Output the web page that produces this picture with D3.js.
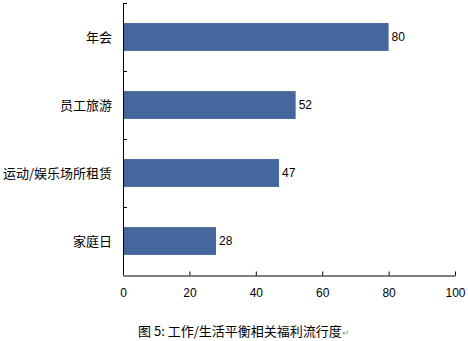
<!DOCTYPE html>
<html>
<head>
<meta charset="utf-8">
<script src="https://cdn.jsdelivr.net/npm/d3@7"></script>
<style>
  body { margin: 0; background: #fff; }
  text { font-family: "Liberation Sans", Arial, sans-serif; font-size: 12px; fill: #000; }
  .cjk { font-family: "Noto Sans CJK SC", sans-serif; font-size: 13px; }
</style>
</head>
<body>
<div id="chart"></div>
<script>
var categories = ["年会", "员工旅游", "运动/娱乐场所租赁", "家庭日"];
var values = [80, 52, 47, 28];
var xTicks = [0, 20, 40, 60, 80, 100];
var caption = "图 5: 工作/生活平衡相关福利流行度";

var width = 468;
var height = 341;
var plotLeft = 123, plotRight = 455, plotTop = 3, plotBottom = 275;
var barColor = "#44679e";

var svg = d3.select("#chart").append("svg")
  .attr("width", width)
  .attr("height", height);

var xScale = d3.scaleLinear()
  .domain([0, 100])
  .range([plotLeft, plotRight]);

var yScale = d3.scaleBand()
  .domain(categories)
  .range([plotTop, plotBottom])
  .paddingInner(0.59)
  .paddingOuter(0.295);

/* bars */
svg.selectAll(".bar")
  .data(values).enter()
  .append("rect")
  .attr("class", "bar")
  .attr("x", xScale(0))
  .attr("y", (d, i) => yScale(categories[i]))
  .attr("width", d => xScale(d) - xScale(0))
  .attr("height", yScale.bandwidth())
  .attr("fill", barColor);

/* value labels */
svg.selectAll(".val")
  .data(values).enter()
  .append("text")
  .attr("class", "val")
  .attr("x", d => xScale(d) + 3)
  .attr("y", (d, i) => yScale(categories[i]) + yScale.bandwidth() / 2)
  .attr("dy", "0.35em")
  .text(d => d);

/* x axis */
var xAxis = d3.axisBottom(xScale).tickValues(xTicks).tickSizeInner(-4).tickSizeOuter(0).tickPadding(13);
var gx = svg.append("g")
  .attr("transform", `translate(0, ${plotBottom + 0.5})`)
  .call(xAxis);
gx.select(".domain").attr("stroke", "#000");
gx.selectAll("text").style("font-size", "12px").attr("fill", "#000");

/* y axis with boundary ticks */
var boundaries = d3.range(categories.length + 1).map(i => plotTop + i * (plotBottom - plotTop) / categories.length);
svg.append("line")
  .attr("x1", plotLeft + 0.5).attr("x2", plotLeft + 0.5)
  .attr("y1", plotTop).attr("y2", plotBottom)
  .attr("stroke", "#000");
svg.selectAll(".ytick")
  .data(boundaries.slice(0, -1)).enter()
  .append("line")
  .attr("class", "ytick")
  .attr("x1", plotLeft).attr("x2", plotLeft + 4)
  .attr("y1", d => Math.round(d) + 0.5).attr("y2", d => Math.round(d) + 0.5)
  .attr("stroke", "#000");

/* category labels */
svg.selectAll(".cat")
  .data(categories).enter()
  .append("text")
  .attr("class", "cat cjk")
  .attr("x", 112)
  .attr("y", d => yScale(d) + yScale.bandwidth() / 2)
  .attr("dy", "0.35em")
  .attr("text-anchor", "end")
  .text(d => d);

/* caption */
var cap = svg.append("text")
  .attr("class", "cjk")
  .attr("x", 138)
  .attr("y", 331)
  .attr("dy", "0.35em");
cap.append("tspan").text(caption);
cap.append("tspan").attr("fill", "#999").style("font-size", "9px").text("↵");
</script>
</body>
</html>
